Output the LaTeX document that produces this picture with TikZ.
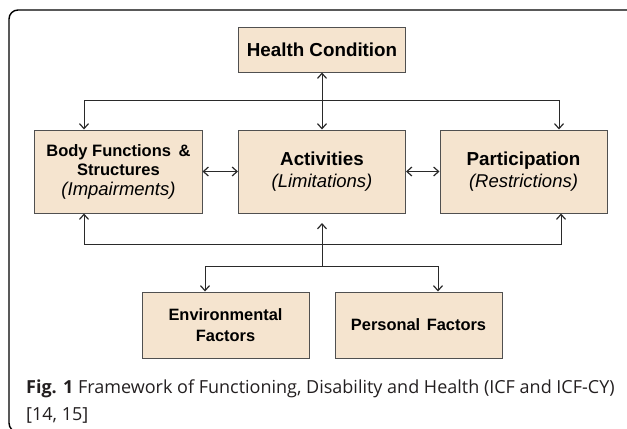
\documentclass[tikz,border=0pt]{standalone}
\usepackage{fontspec}
\setmainfont{Liberation Sans}
\newfontfamily\capfont{Open Sans}
\usetikzlibrary{arrows.meta}
\definecolor{boxfill}{HTML}{F5E4CF}
\definecolor{boxline}{HTML}{505050}
\definecolor{connc}{HTML}{2A2A2A}
\definecolor{capcol}{HTML}{231F20}
\begin{document}
\begin{tikzpicture}[x=1bp,y=-1bp,
  box/.style={draw=boxline, line width=1bp, fill=boxfill, minimum width=167bp, inner sep=0pt, align=center, text=black},
  rowbox/.style={box, minimum height=83bp},
  lowbox/.style={box, minimum height=66bp},
  conn/.style={draw=connc, line width=1bp},
  >={Straight Barb[length=5bp,width=9bp,line width=1.2bp]},
  bigbf/.style={font=\fontsize{18.8bp}{22bp}\selectfont},
  smallbf/.style={font=\fontsize{16.4bp}{21bp}\selectfont},
  captext/.style={anchor=base west, inner sep=0pt, text=capcol, font=\capfont\fontsize{18bp}{20bp}\selectfont},
]
\useasboundingbox (0,0) rectangle (627,428);
\draw[line width=1.4bp, rounded corners=9bp] (9,10) rectangle (660,432);

\node[box, minimum height=45bp, bigbf] (hc) at (322,49.5) {\textbf{Health Condition}};
\node[rowbox, font=\fontsize{16.5bp}{19bp}\selectfont] (body) at (118.5,171.5)
  {\textbf{Body Functions\hspace{3bp} \&}\\\textbf{Structures}\\[1bp]{\fontsize{18.5bp}{21bp}\selectfont\itshape (Impairments)}};
\node[rowbox, bigbf] (act) at (322,171.5)
  {\textbf{Activities}\\{\fontsize{18.5bp}{22bp}\selectfont\itshape (Limitations)}};
\node[rowbox, bigbf] (part) at (523.5,171.5)
  {\textbf{Participation}\\{\fontsize{18.5bp}{22bp}\selectfont\itshape (Restrictions)}};
\node[lowbox, smallbf] (env) at (225.5,325) {\textbf{Environmental}\\\textbf{Factors}};
\node[lowbox, smallbf] (pers) at (418.5,325) {\textbf{Personal\hspace{2bp} Factors}};

\coordinate (tl) at (84,100);
\coordinate (tr) at (559,100);
\coordinate (bl) at (84,244);
\coordinate (br) at (561,244);
\coordinate (mid) at (322,266);
\coordinate (acttip) at (322,223);
\coordinate (el) at (205,266);
\coordinate (er) at (438,266);

\draw[conn,<->] (hc.south) -- (act.north);
\draw[conn,<->] (body.north -| tl) -- (tl) -- (tr) -- (part.north -| tr);
\draw[conn,<->] (body) -- (act);
\draw[conn,<->] (act) -- (part);
\draw[conn,<->] (body.south -| bl) -- (bl) -- (br) -- (part.south -| br);
\draw[conn,->] (mid) -- (acttip);
\draw[conn,<->] (env.north -| el) -- (el) -- (er) -- (pers.north -| er);

\node[captext] (cap1) at (26,393) {\textbf{Fig. 1} Framework of Functioning, Disability and Health (ICF and ICF-CY)};
\node[captext] (cap2) at (26,420) {[14, 15]};
\end{tikzpicture}
\end{document}
